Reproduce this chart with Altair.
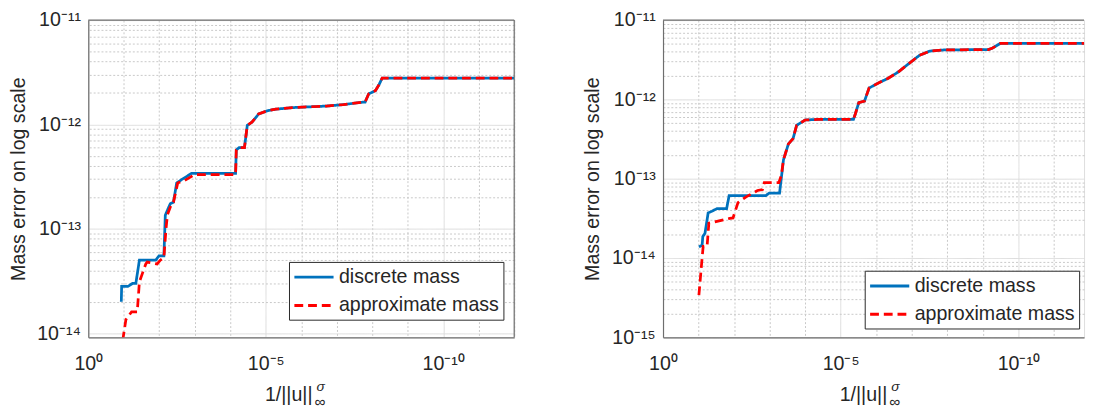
import altair as alt
import pandas as pd

BLUE = "#0072BD"
RED = "#FF0000"
TXT = "#262626"
AXC = "#6e6e6e"
FONT = "Liberation Sans"
SERIES = ["discrete mass", "approximate mass"]

# ---------------- data (x given as log10 exponent of 1/||u||^sigma) ----------------
left_disc_xexp = [-0.93, -0.94, -1.11, -1.25, -1.34, -1.44, -1.90, -1.99, -2.13, -2.17,
                  -2.31, -2.40, -2.49, -2.59, -2.91, -4.15, -4.17, -4.25, -4.40, -4.48,
                  -4.61, -4.80, -5.04, -5.28, -5.76, -6.71, -7.19, -7.76, -7.80, -7.90,
                  -8.09, -8.19, -8.28, -12.0]
left_disc_y = [2.0e-14, 2.8e-14, 2.8e-14, 3.0e-14, 3.0e-14, 5.0e-14, 5.0e-14, 5.5e-14, 5.5e-14, 1.35e-13,
               1.74e-13, 1.8e-13, 2.75e-13, 2.9e-13, 3.4e-13, 3.4e-13, 5.7e-13, 6.0e-13, 6.0e-13, 9.8e-13,
               1.05e-12, 1.26e-12, 1.35e-12, 1.4e-12, 1.45e-12, 1.5e-12, 1.55e-12, 1.64e-12, 1.64e-12, 1.96e-12,
               2.11e-12, 2.4e-12, 2.78e-12, 2.78e-12]

left_appr_xexp = [-0.97, -1.06, -1.22, -1.38, -1.44, -1.62, -1.66, -1.94, -2.03, -2.13,
                  -2.19, -2.23, -2.35, -2.40, -2.52, -2.71, -2.99, -4.15, -4.17, -4.25,
                  -4.40, -4.48, -4.61, -4.80, -5.04, -5.28, -5.76, -6.71, -7.19, -7.76,
                  -7.80, -7.90, -8.09, -8.19, -8.28, -12.0]
left_appr_y = [8.5e-15, 1.35e-14, 1.6e-14, 1.6e-14, 3.1e-14, 4.6e-14, 4.8e-14, 4.6e-14, 5.0e-14, 5.3e-14,
               1.0e-13, 1.36e-13, 1.75e-13, 1.8e-13, 2.75e-13, 2.9e-13, 3.3e-13, 3.3e-13, 5.7e-13, 6.0e-13,
               6.0e-13, 9.8e-13, 1.05e-12, 1.26e-12, 1.35e-12, 1.4e-12, 1.45e-12, 1.5e-12, 1.55e-12, 1.64e-12,
               1.64e-12, 1.96e-12, 2.11e-12, 2.4e-12, 2.78e-12, 2.78e-12]

right_disc_xexp = [-1.01, -1.10, -1.12, -1.18, -1.27, -1.38, -1.52, -1.79, -1.86, -2.89,
                   -2.99, -3.28, -3.33, -3.39, -3.53, -3.66, -3.76, -4.00, -4.39, -5.36,
                   -5.41, -5.51, -5.67, -5.80, -6.05, -6.34, -6.63, -6.92, -7.22, -7.51,
                   -7.90, -9.16, -9.26, -9.50, -12.0]
right_disc_y = [1.38e-14, 1.45e-14, 1.87e-14, 2.04e-14, 3.7e-14, 3.9e-14, 4.2e-14, 4.2e-14, 6.1e-14, 6.1e-14,
                6.6e-14, 6.6e-14, 1.02e-13, 1.73e-13, 2.75e-13, 3.2e-13, 4.7e-13, 5.5e-13, 5.6e-13, 5.6e-13,
                6.5e-13, 9.1e-13, 9.5e-13, 1.39e-12, 1.6e-12, 1.85e-12, 2.23e-12, 2.83e-12, 3.6e-12, 4.07e-12,
                4.2e-12, 4.25e-12, 4.4e-12, 5.1e-12, 5.1e-12]

right_appr_xexp = [-1.01, -1.10, -1.13, -1.24, -1.29, -1.38, -1.88, -1.97, -2.11, -2.34,
                   -2.66, -2.80, -2.85, -3.26, -3.33, -3.39, -3.53, -3.66, -3.76, -4.00,
                   -4.39, -5.36, -5.41, -5.51, -5.67, -5.80, -6.05, -6.34, -6.63, -6.92,
                   -7.22, -7.51, -7.90, -9.16, -9.26, -9.50, -12.0]
right_appr_y = [3.4e-15, 1.0e-14, 1.4e-14, 1.4e-14, 2.75e-14, 2.8e-14, 3.16e-14, 3.2e-14, 5.0e-14, 5.9e-14,
                7.1e-14, 7.3e-14, 8.9e-14, 8.9e-14, 1.1e-13, 1.73e-13, 2.75e-13, 3.2e-13, 4.7e-13, 5.5e-13,
                5.6e-13, 5.6e-13, 6.5e-13, 9.1e-13, 9.5e-13, 1.39e-12, 1.6e-12, 1.85e-12, 2.23e-12, 2.83e-12,
                3.6e-12, 4.07e-12, 4.2e-12, 4.25e-12, 4.4e-12, 5.1e-12, 5.1e-12]

# tick labels
x_major = [1.0, 1e-5, 1e-10]
x_major_labels = ["10⁰", "10⁻⁵", "10⁻¹⁰"]
left_y_major = [1e-14, 1e-13, 1e-12, 1e-11]
left_y_labels = ["10⁻¹⁴", "10⁻¹³", "10⁻¹²", "10⁻¹¹"]
right_y_major = [1e-15, 1e-14, 1e-13, 1e-12, 1e-11]
right_y_labels = ["10⁻¹⁵", "10⁻¹⁴", "10⁻¹³", "10⁻¹²", "10⁻¹¹"]
x_grid = [10.0 ** (-k) for k in range(0, 13)]


def y_grid(majors):
    vals = []
    for m in majors:
        vals.append(m)
        if m < majors[-1]:
            vals.extend([j * m for j in range(2, 10)])
    return vals


def label_expr(vals, labels):
    e = "''"
    for v, l in zip(reversed(vals), reversed(labels)):
        e = f"datum.value == {v!r} ? '{l}' : ({e})"
    return e


def major_test(vals):
    return "indexof([" + ",".join(repr(v) for v in vals) + "], datum.value) >= 0"


def grid_props(vals):
    t = major_test(vals)
    return dict(
        gridDash={"condition": {"test": t, "value": [1, 0]}, "value": [2, 2]},
        gridColor={"condition": {"test": t, "value": "#dcdcdc"}, "value": "#c8c8c8"},
    )


one = pd.DataFrame({"k": [0]})


def txt(s, x, y, size, align="left", italic=False):
    return alt.Chart(one).mark_text(
        text=s, fontSize=size, font=FONT, color=TXT, align=align, baseline="middle",
        fontStyle="italic" if italic else "normal",
    ).encode(x=alt.value(x), y=alt.value(y))


def frame_rule(x, y, x2=None, y2=None):
    enc = dict(x=alt.value(x), y=alt.value(y))
    if x2 is not None:
        enc["x2"] = alt.value(x2)
    if y2 is not None:
        enc["y2"] = alt.value(y2)
    return alt.Chart(one).mark_rule(color=AXC, strokeWidth=1.2).encode(**enc)


def panel(dx, dy, ax, ay, xmin_exp, ydom, ymaj, ylab, W, H, legxy, right_border):
    df = pd.DataFrame({
        "x": [10.0 ** e for e in dx] + [10.0 ** e for e in ax],
        "y": dy + ay,
        "series": [SERIES[0]] * len(dx) + [SERIES[1]] * len(ax),
    })
    leg = alt.Legend(
        orient="none", legendX=legxy[0], legendY=legxy[1], title=None, direction="vertical",
        fillColor="white", strokeColor=TXT, padding=4, labelFontSize=20, labelFont=FONT,
        labelColor=TXT, symbolType="M-1,0H3", symbolSize=400, symbolStrokeWidth=3,
        labelLimit=400, rowPadding=7, labelOffset=24,
    )
    xenc = alt.X(
        "x:Q",
        scale=alt.Scale(type="log", domain=[10.0 ** xmin_exp, 1.0], reverse=True, nice=False, zero=False),
        axis=alt.Axis(
            values=x_grid, labelExpr=label_expr(x_major, x_major_labels), title=None, grid=True,
            ticks=False, domain=True, domainColor=AXC, domainWidth=1.2, labelFontSize=20,
            labelFont=FONT, labelColor=TXT, labelPadding=17, labelFlush=False, labelOverlap=False,
            labelBound=False, **grid_props(x_major),
        ),
    )
    yvals = y_grid(ymaj)
    yenc = alt.Y(
        "y:Q",
        scale=alt.Scale(type="log", domain=ydom, nice=False, zero=False),
        axis=alt.Axis(
            values=yvals, labelExpr=label_expr(ymaj, ylab), title="Mass error on log scale",
            titleFontSize=20, titleFont=FONT, titleColor=TXT, titleFontWeight="normal",
            titlePadding=9, grid=True, ticks=False, domain=True, domainColor=AXC, domainWidth=1.2,
            labelFontSize=20, labelFont=FONT, labelColor=TXT, labelPadding=8, labelOverlap=False,
            labelFlush=False, labelBound=False, **grid_props(ymaj),
        ),
    )
    color = alt.Color("series:N", scale=alt.Scale(domain=SERIES, range=[BLUE, RED]), legend=leg)
    dash = alt.StrokeDash("series:N", scale=alt.Scale(domain=SERIES, range=[[1, 0], [9, 5]]), legend=leg)
    base = alt.Chart(df)
    blue = base.transform_filter(alt.datum.series == SERIES[0]).mark_line(strokeWidth=2.8, clip=True).encode(
        x=xenc, y=yenc, color=color, strokeDash=dash)
    red = base.transform_filter(alt.datum.series == SERIES[1]).mark_line(strokeWidth=2.8, clip=True).encode(
        x=xenc, y=yenc, color=color, strokeDash=dash)
    layers = [blue, red, frame_rule(0, 0, x2=W)]
    if right_border:
        layers.append(frame_rule(W, 0, y2=H))
    layers += [
        txt("1/||u||", 229, H + 59, 20, align="right"),
        txt("σ", 233, H + 51, 14, italic=True),
        txt("∞", 231, H + 66, 16),
    ]
    return alt.layer(*layers).properties(width=W, height=H)


H = 324
left = panel(left_disc_xexp, left_disc_y, left_appr_xexp, left_appr_y, -12.0,
             [10.0 ** -14.04, 1e-11], left_y_major, left_y_labels, 435, H, (205, 247), True)
right = panel(right_disc_xexp, right_disc_y, right_appr_xexp, right_appr_y, -11.85,
              [1e-15, 1e-11], right_y_major, right_y_labels, 430, H, (206, 256), False)

chart = alt.hconcat(left, right, spacing=68).resolve_scale(
    color="independent", strokeDash="independent"
).resolve_legend(color="independent", strokeDash="independent").configure_view(
    stroke="transparent"
).configure(
    padding={"left": 0, "top": -3, "right": 0, "bottom": 0}, background="white"
)
chart.save("out.html", embed_options={"renderer": "svg", "actions": False})
